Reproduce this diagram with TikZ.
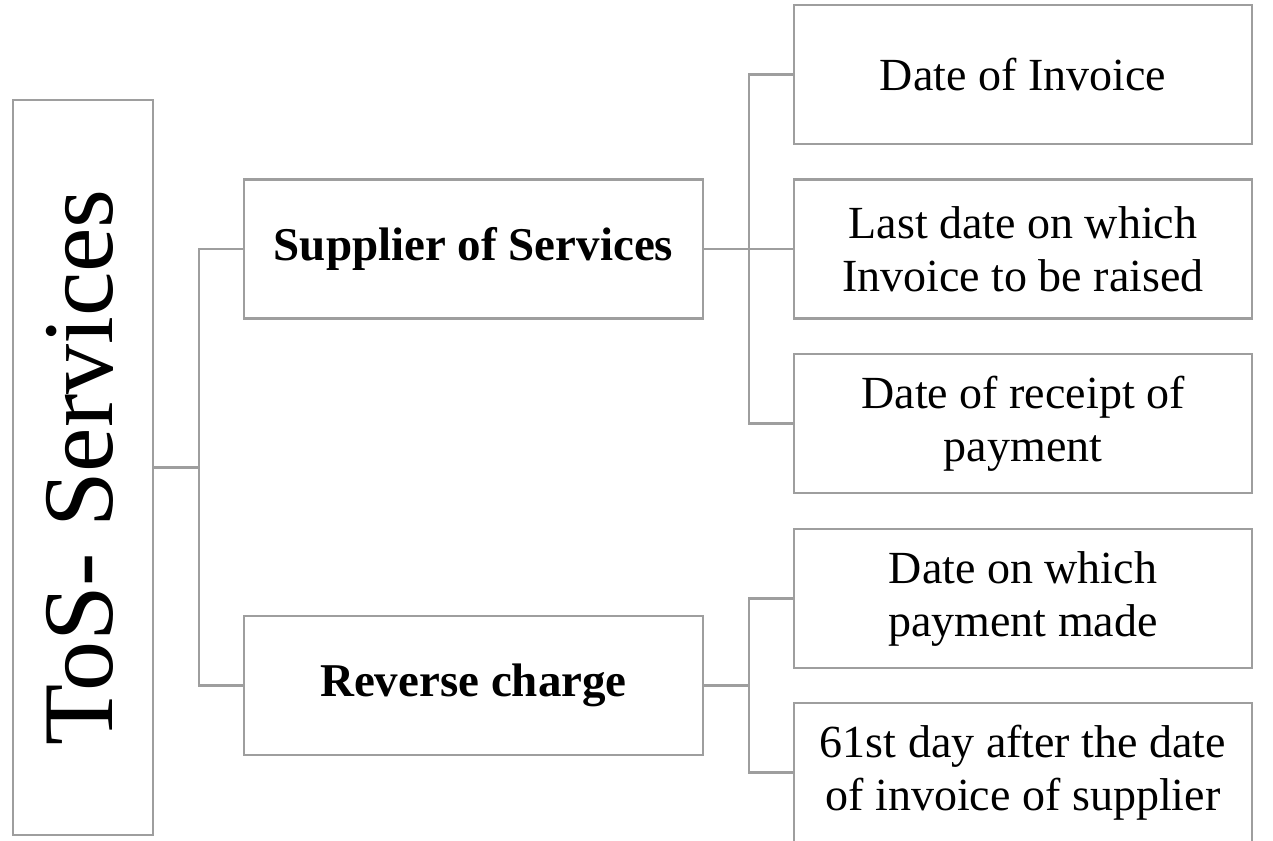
\documentclass[tikz,border=0pt]{standalone}
\usepackage{fontspec}
\setmainfont{Liberation Serif}
\definecolor{linegray}{RGB}{158,158,158}
\begin{document}
\begin{tikzpicture}[x=1pt,y=-1pt,
  box/.style={draw=linegray, line width=2.8pt, rectangle, inner sep=0pt,
    align=center, font=\fontsize{46}{53}\selectfont},
  rbox/.style={box, minimum width=458pt, minimum height=139pt},
  mbox/.style={box, minimum width=459pt, minimum height=139pt,
    font=\fontsize{47}{53}\selectfont\bfseries},
  conn/.style={draw=linegray, line width=2.8pt}]
\useasboundingbox (0,0) rectangle (1273,840);

% root
\node[box, minimum width=140pt, minimum height=735pt] (tos) at (83,467.5)
  {\rotatebox{90}{\raisebox{7pt}{\fontsize{100}{110}\selectfont ToS- Services}}};

% middle level
\node[mbox] (sup) at (473.5,249) {Supplier of Services};
\node[mbox] (rev) at (473.5,685.5) {Reverse charge};

% right level
\node[rbox] (r1) at (1023,74.5) {Date of Invoice};
\node[rbox] (r2) at (1023,249) {Last date on which\\Invoice to be raised};
\node[rbox] (r3) at (1023,423.5) {Date of receipt of\\payment};
\node[rbox] (r4) at (1023,598.5) {Date on which\\payment made};
\node[rbox] (r5) at (1023,772.5) {61st day after the date\\of invoice of supplier};

% junctions
\coordinate (j0) at (199,467.5);
\coordinate (j1) at (749,249);
\coordinate (j2) at (749,685.5);

% connectors
\draw[conn] (tos.east) -- (j0);
\draw[conn] (j0) |- (sup.west);
\draw[conn] (j0) |- (rev.west);

\draw[conn] (sup.east) -- (j1);
\draw[conn] (j1) |- (r1.west);
\draw[conn] (j1) -- (r2.west);
\draw[conn] (j1) |- (r3.west);

\draw[conn] (rev.east) -- (j2);
\draw[conn] (j2) |- (r4.west);
\draw[conn] (j2) |- (r5.west);
\end{tikzpicture}
\end{document}
